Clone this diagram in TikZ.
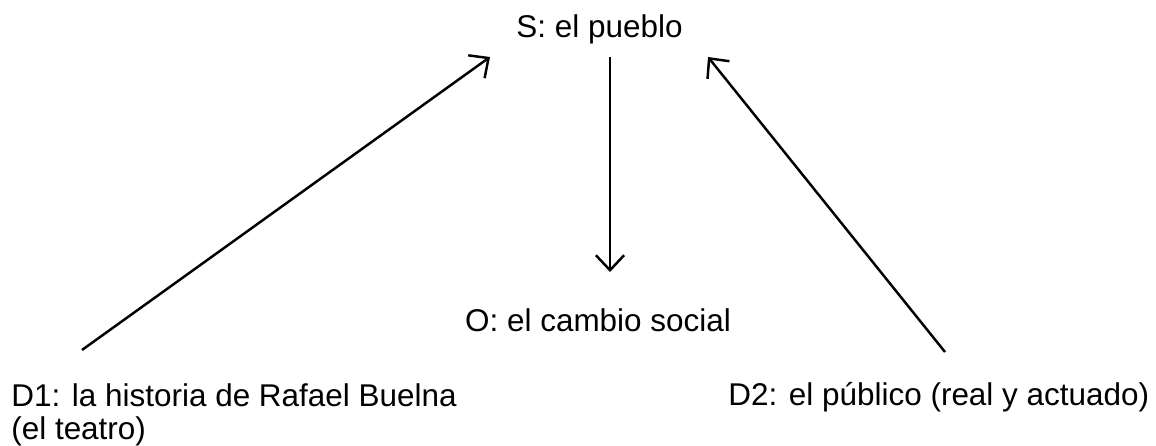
\documentclass[tikz,border=0pt]{standalone}
\usepackage{fontspec}
\setmainfont{Liberation Sans}
\usetikzlibrary{arrows.meta}

\tikzset{
    label/.style={inner sep=0pt, font=\fontsize{17.9}{18.8}\selectfont},
    arr/.style={-{Straight Barb[length=8.5pt,width=16pt]}, line width=1.4pt}
}

\begin{document}
\begin{tikzpicture}
    \useasboundingbox (0,0) rectangle (23.12,8.92);
    \node[label, anchor=base] (s) at (11.99,8.16) {S: el pueblo};
    \node[label, anchor=base] (o) at (11.96,2.28) {O: el cambio social};
    % base of a two-line node is the last line
    \node[label, anchor=base west, align=left] (d1) at (0.22,0.13) {D1: la historia de Rafael Buelna\\(el teatro)};
    \node[label, anchor=base west] (d2) at (14.56,0.80) {D2: el público (real y actuado)};
    % arrow ends
    \coordinate (s-down) at (12.2,7.78);
    \coordinate (o-up) at (12.2,3.48);
    \coordinate (d1-out) at (1.64,1.92);
    \coordinate (s-left) at (9.8,7.78);
    \coordinate (d2-out) at (18.9,1.88);
    \coordinate (s-right) at (14.16,7.78);
    \draw[arr] (s-down) -- (o-up);
    \draw[arr] (d1-out) -- (s-left);
    \draw[arr] (d2-out) -- (s-right);
\end{tikzpicture}
\end{document}
